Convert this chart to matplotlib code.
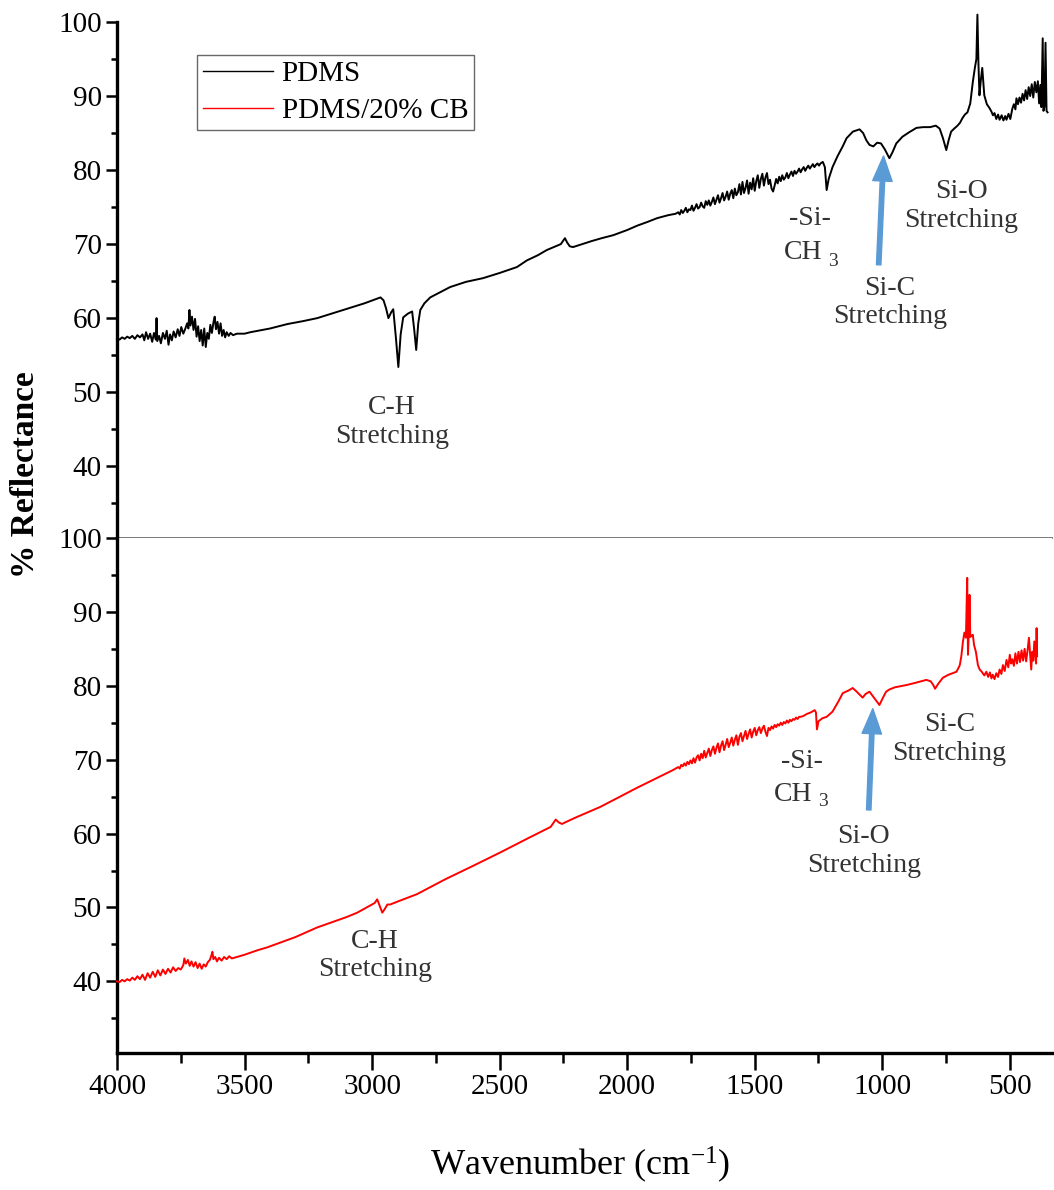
import matplotlib
matplotlib.use("Agg")
import matplotlib.pyplot as plt
from matplotlib.lines import Line2D
from matplotlib.ticker import MultipleLocator

plt.rcParams["font.family"] = ["Liberation Serif", "DejaVu Serif"]
plt.rcParams["mathtext.fontset"] = "custom"
plt.rcParams["mathtext.rm"] = "Liberation Serif"
plt.rcParams["mathtext.it"] = "Liberation Serif:italic"

# ---------------- spectra (wavenumber in cm-1, % reflectance) ----------------
pdms_wn = [
    4000, 3990, 3980, 3970, 3960, 3950, 3940, 3930, 3920, 3910, 3900, 3893, 3886, 3878,
    3870, 3862, 3855, 3848, 3845, 3842, 3835, 3828, 3820, 3812, 3805, 3798, 3792, 3785,
    3778, 3770, 3762, 3755, 3748, 3740, 3732, 3725, 3720, 3716, 3712, 3706, 3700, 3694,
    3688, 3682, 3676, 3670, 3664, 3658, 3652, 3646, 3640, 3634, 3628, 3622, 3617, 3612,
    3606, 3600, 3594, 3588, 3582, 3576, 3570, 3562, 3555, 3545, 3530, 3500, 3477, 3400,
    3332, 3270, 3215, 3150, 3086, 3030, 2967, 2955, 2945, 2936, 2925, 2917, 2907, 2897,
    2888, 2878, 2860, 2843, 2835, 2827, 2819, 2811, 2795, 2772, 2694, 2632, 2565, 2500,
    2432, 2393, 2350, 2315, 2280, 2260, 2244, 2235, 2225, 2212, 2185, 2140, 2100, 2055,
    2000, 1960, 1920, 1883, 1840, 1810,
    1800, 1794, 1788, 1782, 1776, 1770, 1764, 1758, 1752, 1746, 1740, 1734, 1728, 1722,
    1716, 1710, 1704, 1698, 1692, 1686, 1680, 1674, 1668, 1662, 1656, 1650, 1644, 1638,
    1632, 1626, 1620, 1614, 1608, 1602, 1596, 1590, 1584, 1578, 1572, 1566, 1560, 1554,
    1548, 1542, 1536, 1530, 1524, 1518, 1512, 1506, 1500, 1494, 1488, 1482, 1476, 1470,
    1464, 1458, 1452, 1446, 1440, 1434, 1428, 1422, 1416, 1410, 1404, 1398, 1392, 1386,
    1380, 1374, 1368, 1362, 1356, 1350, 1344, 1338, 1332, 1326, 1320, 1314, 1308, 1302,
    1296, 1290, 1284, 1278, 1272, 1266, 1260, 1254, 1248, 1242, 1233,
    1225, 1218, 1210, 1195, 1175, 1155, 1140, 1115, 1089, 1075, 1062, 1050, 1035, 1020,
    1005, 990, 972, 960, 945, 921, 895, 866, 840, 813, 790, 775, 762, 749, 740, 730,
    718, 705, 695, 686, 676, 666, 655, 645, 637, 631, 627, 623, 619, 614, 608, 603,
    600, 590, 580, 572, 566, 560, 553, 546, 540, 532, 525, 518, 513, 505, 498, 490,
    484, 478, 474, 468, 462, 456, 450, 444, 438, 432, 426, 420, 414, 408, 402, 396,
    390, 385, 380, 376, 371, 368, 364, 360, 356, 352,
]
pdms_r = [
    57.3, 57.1, 57.4, 57.2, 57.5, 57.3, 57.6, 57.2, 57.7, 57.4, 57.8, 57.0, 58.1, 57.2,
    57.9, 56.8, 58.0, 57.1, 60.0, 56.9, 57.6, 56.6, 58.0, 57.2, 58.3, 56.4, 57.8, 57.0,
    58.2, 57.4, 58.5, 57.6, 58.8, 57.9, 58.6, 59.3, 58.6, 61.1, 59.0, 60.2, 58.4, 59.9,
    57.5, 58.9, 56.9, 58.4, 56.3, 58.6, 56.1, 58.0, 57.2, 59.1, 58.0, 59.4, 60.2, 58.5,
    59.5, 57.9, 59.3, 57.6, 58.4, 57.4, 58.1, 57.6, 58.0, 57.7, 57.9, 57.9, 58.1, 58.6,
    59.2, 59.6, 60.0, 60.7, 61.4, 62.0, 62.8, 62.4, 61.3, 60.0, 60.8, 61.2, 57.5, 53.4,
    57.8, 60.1, 60.6, 60.9, 58.5, 55.7, 59.3, 61.1, 62.0, 62.8, 64.2, 64.9, 65.4, 66.1,
    66.9, 67.8, 68.5, 69.2, 69.7, 70.0, 70.8, 70.2, 69.7, 69.6, 69.9, 70.4, 70.8, 71.2,
    71.9, 72.5, 73.0, 73.5, 73.9, 74.1,
    74.3, 74.0, 74.6, 74.2, 74.5, 74.9, 74.3, 74.7, 74.6, 75.2, 74.5, 74.9, 75.4, 74.8,
    75.0, 75.6, 75.1, 74.9, 75.8, 75.3, 75.9, 75.2, 75.7, 76.3, 75.4, 76.0, 76.6, 75.6,
    76.2, 76.9, 75.9, 76.4, 77.1, 76.0, 76.8, 77.3, 76.2, 77.5, 76.6, 77.0, 78.1, 76.7,
    78.4, 76.9, 77.6, 78.6, 76.8, 78.3, 77.4, 78.9, 77.2, 78.5, 79.3, 77.6, 78.8, 79.5,
    77.9, 79.0, 79.6, 78.1, 78.7, 77.5, 77.1, 77.9, 78.8, 78.2, 79.1, 78.5, 79.3, 78.7,
    79.0, 79.6, 78.9, 79.4, 79.8, 79.2, 79.9, 79.5, 79.8, 80.2, 79.7, 80.1, 80.4, 79.9,
    80.3, 80.6, 80.2, 80.5, 80.8, 80.4, 80.7, 80.9, 80.6, 80.9, 81.1,
    80.4, 77.3, 78.8, 80.4, 81.9, 83.2, 84.3, 85.2, 85.5, 85.0, 84.0, 83.4, 83.2, 83.7,
    83.6, 82.8, 81.6, 82.4, 83.6, 84.5, 85.1, 85.7, 85.8, 85.8, 86.0, 85.6, 84.3, 82.7,
    84.0, 85.2, 85.6, 86.0, 86.4, 87.0, 87.5, 87.8, 89.0, 91.9, 93.8, 95.0, 101.0, 94.5,
    90.1, 92.0, 93.8, 91.5, 90.1, 88.9, 88.4, 87.9, 87.4, 87.7, 86.9, 87.5, 86.8, 87.4,
    86.7, 87.3, 86.8, 87.6, 86.9, 88.3, 88.9, 88.2, 89.7, 88.9, 89.8, 89.1, 90.3, 89.4,
    90.8, 89.6, 91.2, 90.0, 91.6, 89.8, 91.9, 90.5, 92.0, 89.0, 91.5, 88.5, 97.8, 88.0,
    88.6, 97.2, 88.0, 87.8,
]

cb_wn = [
    4000, 3990, 3980, 3970, 3960, 3950, 3940, 3930, 3920, 3910, 3900, 3890, 3880, 3870,
    3860, 3850, 3840, 3830, 3820, 3810, 3800, 3790, 3780, 3770, 3760, 3750, 3740, 3736,
    3730, 3722, 3715, 3708, 3700, 3692, 3684, 3676, 3668, 3660, 3652, 3644, 3636, 3630,
    3626, 3622, 3615, 3608, 3600, 3590, 3580, 3570, 3560, 3550, 3530, 3500, 3450, 3411,
    3300, 3215, 3100, 3058, 3000, 2990, 2980, 2970, 2960, 2950, 2940, 2929, 2900, 2824,
    2714, 2600, 2500, 2381, 2300, 2280, 2268, 2255, 2244, 2200, 2106, 1961, 1844, 1820,
    1800, 1794, 1788, 1782, 1776, 1770, 1764, 1758, 1752, 1746, 1740, 1734, 1728, 1722,
    1716, 1710, 1704, 1698, 1692, 1686, 1680, 1674, 1668, 1662, 1656, 1650, 1644, 1638,
    1632, 1626, 1620, 1614, 1608, 1602, 1596, 1590, 1584, 1578, 1572, 1566, 1560, 1554,
    1548, 1542, 1536, 1530, 1524, 1518, 1512, 1506, 1500, 1494, 1488, 1482, 1476, 1470,
    1464, 1458, 1452, 1446, 1440, 1434, 1428, 1422, 1416, 1410, 1404, 1398, 1392, 1386,
    1380, 1374, 1368, 1362, 1356, 1350, 1344, 1338, 1332, 1326, 1320,
    1310, 1295, 1280, 1265,
    1260, 1256, 1250, 1235, 1218, 1195, 1170, 1155, 1130, 1116, 1100, 1077, 1065, 1050,
    1035, 1020, 1011, 1000, 985, 972, 950, 905, 870, 827, 810, 800, 793, 780, 762, 740,
    709, 700, 696, 690, 684, 678, 672, 667, 664, 660, 658, 655, 650, 645, 640, 633,
    625, 618, 610, 600, 592, 585, 578, 572, 567, 560, 553, 546, 540, 533, 527, 520,
    513, 506, 500, 495, 490, 484, 478, 472, 466, 460, 454, 448, 442, 436, 430, 425,
    420, 416, 412, 408, 404, 400, 397, 395, 393,
]
cb_r = [
    40.0, 39.9, 40.2, 40.0, 40.3, 40.1, 40.5, 40.2, 40.7, 40.3, 40.9, 40.2, 41.1, 40.5,
    41.3, 40.6, 41.5, 40.8, 41.6, 41.0, 41.7, 41.2, 41.9, 41.4, 41.8, 41.6, 42.2, 43.1,
    42.4, 42.9, 42.1, 42.7, 42.0, 42.6, 41.8, 42.4, 41.7, 42.3, 42.0, 42.6, 42.9, 43.5,
    44.0, 43.0, 43.3, 42.7, 43.2, 42.8, 43.3, 43.0, 43.4, 43.1, 43.3, 43.6, 44.2, 44.6,
    46.0, 47.3, 48.7, 49.3, 50.4, 50.6, 51.1, 50.2, 49.3, 49.8, 50.4, 50.4, 50.8, 51.8,
    53.8, 55.7, 57.4, 59.5, 60.9, 61.9, 61.5, 61.3, 61.5, 62.2, 63.6, 66.2, 68.2, 68.6,
    69.0, 68.8, 69.3, 69.1, 69.5, 69.2, 69.7, 69.4, 69.9, 69.5, 70.2, 69.6, 70.3, 70.6,
    69.9, 70.8, 70.2, 71.2, 70.3, 70.9, 71.5, 70.5, 71.3, 71.8, 70.8, 71.6, 72.2, 71.0,
    71.9, 72.5, 71.3, 72.0, 72.8, 71.7, 72.3, 73.0, 71.9, 72.7, 73.3, 72.0, 73.1, 73.6,
    72.5, 73.2, 73.9, 72.8, 73.5, 74.1, 73.0, 73.8, 74.3, 73.3, 74.0, 74.4, 73.6, 74.2,
    74.6, 73.8, 73.2, 74.3, 74.0, 74.5, 74.2, 74.7, 74.4, 74.8, 74.6, 75.0, 74.7, 75.1,
    74.9, 75.3, 75.0, 75.4, 75.2, 75.5, 75.4, 75.7, 75.5, 75.8, 75.8,
    75.9, 76.2, 76.4, 76.7,
    76.4, 74.1, 75.2, 75.6, 75.8, 76.5, 78.0, 79.0, 79.4, 79.7, 79.2, 78.4, 78.9, 79.2,
    78.5, 77.8, 77.4, 78.2, 79.2, 79.5, 79.8, 80.1, 80.4, 80.8, 80.6, 80.1, 79.6, 80.3,
    81.1, 81.5,
    81.9, 82.5, 82.8, 84.0, 85.9, 87.2, 86.5, 94.6, 84.2, 88.0, 92.3, 86.6, 86.8, 86.9,
    85.5, 84.6,
    82.8, 82.2, 81.9, 81.4, 81.9, 81.2, 81.8, 81.0, 81.5, 80.9, 81.7, 81.2, 82.2, 81.6,
    82.8, 82.0,
    83.5, 82.5, 84.2, 83.0, 83.6, 82.7, 84.4, 83.0, 84.6, 83.2, 84.8, 83.4, 85.0, 83.3,
    84.9, 86.5,
    84.0, 82.2, 84.6, 83.4, 86.0, 84.2, 83.0, 87.8, 84.0,
]

series_labels = ["PDMS", "PDMS/20% CB"]
series_colors = ["#000000", "#ff0000"]

x_major = [4000, 3500, 3000, 2500, 2000, 1500, 1000, 500]
y_major = [40, 50, 60, 70, 80, 90, 100]

# band assignments: (text, wavenumber, reflectance)
top_notes = [("C-H\nStretching", 2921, 46.0),
             ("Si-C\nStretching", 971, 62.1),
             ("Si-O\nStretching", 689, 75.1)]
bot_notes = [("C-H\nStretching", 2988, 43.5),
             ("Si-O\nStretching", 1073, 57.6),
             ("Si-C\nStretching", 736, 72.8)]
top_sich3 = (1284, 73.5, 1311, 68.8, 1194, 67.7)
bot_sich3 = (1316, 69.7, 1350, 65.3, 1233, 64.3)
top_arrow = ((1014, 67.2), (995, 81.9))
bot_arrow = ((1053, 63.2), (1037, 76.9))

# ---------------- figure ----------------
fig = plt.figure(figsize=(10.54, 11.90), dpi=100)
ax_top = fig.add_axes([0.111, 0.5479, 0.887, 0.4336])
ax_bot = fig.add_axes([0.111, 0.1151, 0.887, 0.4328])

ax_top.plot(pdms_wn, pdms_r, color=series_colors[0], lw=1.4, clip_on=False, zorder=3)
ax_bot.plot(cb_wn, cb_r, color=series_colors[1], lw=1.4, clip_on=False, zorder=3)

note_color = "#333333"
for ax, notes, sich3, arrow in ((ax_top, top_notes, top_sich3, top_arrow),
                                (ax_bot, bot_notes, bot_sich3, bot_arrow)):
    ax.set_xlim(4000, 335)
    ax.set_ylim(30.3, 100)
    ax.yaxis.set_major_locator(MultipleLocator(10))
    ax.yaxis.set_minor_locator(MultipleLocator(5))
    ax.xaxis.set_major_locator(MultipleLocator(500))
    ax.xaxis.set_minor_locator(MultipleLocator(250))
    ax.set_yticks(y_major)
    ax.tick_params(axis="y", which="major", direction="out", length=8, width=1.8,
                   labelsize=21, pad=3)
    ax.tick_params(axis="y", which="minor", direction="out", length=4, width=1.8)
    for side in ("top", "right"):
        ax.spines[side].set_visible(False)
    ax.spines["left"].set_linewidth(2.4)
    for text, wn, val in notes:
        ax.text(wn, val, text, ha="center", va="center", fontsize=20,
                color=note_color, linespacing=1.2)
    sx, sy, cx, cy, nx, ny = sich3
    ax.text(sx, sy, "-Si-", ha="center", va="center", fontsize=20, color=note_color)
    ax.text(cx, cy, "CH", ha="center", va="center", fontsize=20, color=note_color)
    ax.text(nx, ny, "3", ha="center", va="center", fontsize=14, color=note_color)
    ax.annotate("", xy=arrow[1], xytext=arrow[0],
                arrowprops=dict(arrowstyle="simple,head_length=0.9,head_width=0.7,tail_width=0.16",
                                mutation_scale=20, color="#5b9bd5", shrinkA=0, shrinkB=0))

# upper panel: no x ticks, grey separator at its base
ax_top.tick_params(axis="x", which="both", bottom=False, labelbottom=False)
ax_top.spines["bottom"].set_color("#6e6e6e")
ax_top.spines["bottom"].set_linewidth(1.3)
ax_top.spines["bottom"].set_zorder(5)

# lower panel: wavenumber axis
ax_bot.spines["bottom"].set_linewidth(2.4)
ax_bot.set_xticks(x_major)
ax_bot.tick_params(axis="x", which="major", direction="out", length=12, width=1.8,
                   labelsize=21, pad=3)
ax_bot.tick_params(axis="x", which="minor", direction="out", length=7, width=1.8)

handles = [Line2D([], [], color=c, lw=1.0) for c in series_colors]
leg = ax_top.legend(handles, series_labels, loc="upper left",
                    bbox_to_anchor=(0.0856, 0.936), borderaxespad=0, fontsize=21,
                    frameon=True, fancybox=False, edgecolor="#444444",
                    handlelength=2.4, handletextpad=0.3, borderpad=0.2,
                    labelspacing=0.35)
leg.get_frame().set_linewidth(1.0)

fig.text(0.024, 0.601, "% Reflectance", rotation=90, ha="center", va="center",
         fontsize=24, fontweight="bold")
fig.text(0.55, 0.021, "Wavenumber (cm$^{-1}$)", ha="center", va="center", fontsize=26)

fig.savefig("out.png", dpi=100)
